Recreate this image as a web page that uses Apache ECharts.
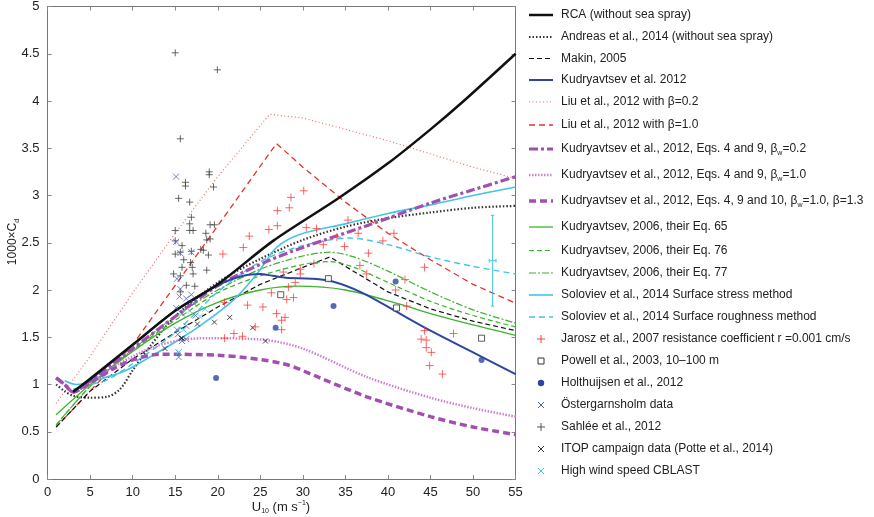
<!DOCTYPE html>
<html><head><meta charset="utf-8">
<script src="https://cdn.jsdelivr.net/npm/echarts@6/dist/echarts.min.js"></script>
<style>html,body{margin:0;padding:0;background:#fff}#c{width:874px;height:517px}</style>
</head><body><div id="c"></div>
<script>
const xTicks=[0,5,10,15,20,25,30,35,40,45,50,55];
const yTicks=[0,0.5,1,1.5,2,2.5,3,3.5,4,4.5,5];
const rca=[[3,0.92],[5,1.06],[10,1.42],[15,1.78],[20,2.06],[26.5,2.52],[34,2.96],[40,3.34],[45,3.7],[48.9,4.0],[55,4.5]];
const andreas=[[1,1.0],[2,0.93],[3,0.88],[5,0.86],[7,0.87],[8.5,0.95],[10,1.15],[12,1.4],[15,1.72],[20,2.08],[25,2.33],[30,2.53],[35,2.67],[40,2.76],[45,2.82],[50,2.87],[55,2.89]];
const makin=[[1,0.55],[5,0.93],[10,1.27],[15,1.55],[20,1.82],[25,2.06],[30,2.24],[33.2,2.35],[35,2.25],[40,1.98],[45,1.8],[50,1.67],[55,1.57]];
const kud2012=[[3,0.93],[5,1.05],[10,1.42],[15,1.78],[20,2.05],[23,2.15],[25,2.17],[26.5,2.15],[28,2.13],[31,2.12],[33.5,2.09],[37,1.97],[41.4,1.75],[45,1.57],[50,1.34],[55,1.11]];
const liu02=[[1,0.8],[5,1.3],[10,1.97],[15,2.6],[20,3.2],[26.1,3.86],[30,3.82],[35,3.7],[40,3.58],[45,3.44],[50,3.3],[55,3.18]];
const liu10=[[1,0.55],[5,0.93],[10,1.42],[15,2.05],[20,2.68],[26.9,3.55],[30,3.3],[35,2.93],[40,2.6],[45,2.32],[50,2.06],[55,1.86]];
const kudB02=[[1,1.07],[2,1.0],[3,0.92],[5,1.04],[10,1.38],[15,1.72],[19.9,2.04],[25.7,2.3],[30,2.45],[37.5,2.68],[45,2.92],[50,3.06],[55,3.2]];
const kudB10=[[5,1.02],[8,1.2],[12,1.38],[15.6,1.47],[19.1,1.49],[25.7,1.47],[30,1.38],[37.5,1.08],[45,0.86],[50,0.75],[55,0.66]];
const kudB13=[[1,1.07],[2,1.0],[3,0.92],[5,1.02],[8,1.18],[10,1.26],[13.2,1.32],[20,1.31],[27.7,1.22],[32,1.07],[37.5,0.87],[45,0.66],[50,0.55],[55,0.47]];
const eq65=[[1,0.68],[5,1.0],[10,1.35],[15,1.65],[20,1.87],[25,2.0],[29.3,2.04],[35,2.0],[41.4,1.85],[45,1.75],[50,1.63],[55,1.52]];
const eq76=[[1,0.57],[5,0.98],[10,1.36],[15,1.68],[20,1.97],[25,2.15],[30,2.27],[33.2,2.3],[36,2.24],[40,2.08],[45,1.88],[50,1.73],[55,1.61]];
const eq77=[[1,0.57],[5,0.98],[10,1.37],[15,1.72],[20,2.0],[25,2.22],[30,2.36],[33.2,2.4],[36,2.35],[40,2.2],[45,1.98],[50,1.79],[55,1.65]];
const solStress=[[2,1.04],[3.4,1.0],[6.2,1.06],[9,1.14],[12,1.29],[15,1.45],[17.9,1.62],[21.8,1.89],[24.6,2.17],[26.9,2.45],[29.7,2.59],[35,2.7],[40,2.81],[45,2.9],[50,3.0],[55,3.09]];
const solRough=[[3,0.95],[5,1.0],[7,1.05],[10,1.22],[15,1.55],[20,1.98],[25,2.3],[30,2.47],[35.5,2.55],[40,2.48],[45,2.35],[50,2.25],[55,2.17]];
const errX=52.3, errY=2.31, errLow=1.83, errHigh=2.79, errHalfW=0.4;
const jarosz=[[30.1,3.05],[28.6,2.98],[28.4,2.87],[27.0,2.84],[26.0,2.64],[27.0,2.68],[23.7,2.57],[23.0,2.45],[20.6,2.38],[30.4,2.66],[31.6,2.65],[35.3,2.74],[36.5,2.6],[37.7,2.39],[39.4,2.52],[40.7,2.6],[34.9,2.46],[32.4,2.48],[34.0,2.56],[29.1,2.08],[28.3,2.03],[28.9,1.92],[28.1,1.9],[26.3,1.97],[25.3,1.82],[23.5,1.84],[20.8,1.87],[26.9,1.75],[27.9,1.71],[27.5,1.68],[27.5,1.58],[24.4,1.61],[21.9,1.54],[20.8,1.49],[22.9,1.51],[37.5,2.17],[36.7,2.26],[31.3,2.28],[42.0,2.11],[40.9,2.0],[42.2,1.83],[44.3,2.24],[44.3,1.57],[43.9,1.48],[44.5,1.47],[44.5,1.39],[45.1,1.34],[44.9,1.2],[46.4,1.11],[47.7,1.54],[29.7,2.17],[29.7,2.22],[27.7,2.19]];
const powell=[[27.4,1.95],[33.0,2.12],[41.0,1.81],[51.0,1.49]];
const holth=[[19.8,1.07],[26.8,1.6],[33.6,1.83],[40.9,2.09],[51.0,1.26]];
const oster=[[15.1,3.2],[15.1,2.51],[15.6,2.39],[15.2,2.12],[15.6,2.01],[15.5,1.93],[15.1,1.81],[15.8,1.75],[15.2,1.58],[15.3,1.53],[15.8,1.46],[15.4,1.34],[15.4,1.29],[16.9,2.4],[16.9,1.95],[16.3,1.62],[17.4,1.73],[16.3,1.91],[16.3,1.48],[17.2,1.86]];
const sahlee=[[15.0,4.51],[19.95,4.33],[15.6,3.6],[16.2,3.14],[16.2,3.1],[15.4,2.97],[19.0,3.25],[19.0,3.22],[19.5,3.09],[16.7,2.93],[16.9,2.77],[15.0,2.63],[16.7,2.7],[16.7,2.63],[17.1,2.63],[19.1,2.69],[19.6,2.69],[18.6,2.6],[19.1,2.54],[18.7,2.53],[15.0,2.52],[15.8,2.47],[15.6,2.4],[16.9,2.41],[18.0,2.43],[18.3,2.42],[18.9,2.37],[15.0,2.38],[16.0,2.32],[16.8,2.29],[15.8,2.24],[17.0,2.24],[14.8,2.17],[15.6,2.15],[17.1,2.17],[16.3,2.05],[17.3,2.04],[18.7,2.21],[15.6,1.98]];
const itop=[[13.8,1.38],[15.7,1.49],[17.6,1.64],[19.6,1.66],[21.4,1.71],[24.1,1.6],[25.6,1.46],[15.8,1.49]];
const cblast=[[15.4,1.34],[16.7,1.78],[16.0,1.58],[18.5,1.8],[17.9,1.72]];

const PLUS='path://M0,-1L0,1M-1,0L1,0', CROSS='path://M-1,-1L1,1M-1,1L1,-1';
function ln(data,color,w,type,smooth){return {type:'line',data,symbol:'none',smooth:smooth?0.3:false,lineStyle:{color,width:w,type:type||'solid'},z:3};}
function sc(data,symbol,size,fill,border,bw){return {type:'scatter',data,symbol,symbolSize:size,itemStyle:{color:fill,borderColor:border,borderWidth:bw},z:4};}
const errSeg=[[errX,errLow],[errX,errHigh],'-',[errX-errHalfW,errY],[errX+errHalfW,errY],'-',[errX-errHalfW,errY-0.02],[errX-errHalfW,errY+0.02],'-',[errX+errHalfW,errY-0.02],[errX+errHalfW,errY+0.02],'-',[errX-0.2,errLow],[errX+0.2,errLow],'-',[errX-0.2,errHigh],[errX+0.2,errHigh]];

const C={blk:'#111',blue:'#2b47a3',pink:'#f26d6d',red:'#e8302a',pur:'#a24fb0',pur2:'#cc80d0',grn:'#3cb32e',cy:'#44c4e4'};
const series=[
 sc(sahlee,PLUS,7,'none','#444',1),
 sc(oster,CROSS,6,'none','#4a63c0',1),
 sc(itop,CROSS,5,'none','#222',1),
 sc(cblast,CROSS,6,'none',C.cy,1),
 sc(jarosz,PLUS,8,'none','#ff4040',1),
 sc(powell,'rect',6,'#fff','#333',1),
 sc(holth,'circle',6,C.blue,C.blue,0),
 ln(liu02,C.pink,1.2,[1,2.5]),
 ln(liu10,C.red,1.3,[6,4]),
 ln(andreas,'#333',2.2,[1.5,2],true),
 ln(makin,C.blk,1.2,[5,3]),
 ln(eq65,C.grn,1.3,'solid',true),
 ln(eq76,C.grn,1.2,[5,3],true),
 ln(eq77,C.grn,1.2,[7,2,2,2],true),
 ln(solStress,C.cy,1.6,'solid',true),
 ln(solRough,C.cy,1.4,[6,4],true),
 ln(kudB10,C.pur2,2.5,[1.5,1.5],true),
 ln(kudB13,C.pur,3.5,[7,4],true),
 ln(kudB02,C.pur,3.2,[9,3,3,3],true),
 ln(kud2012,C.blue,2,'solid',true),
 ln(rca,C.blk,2.5,'solid',true),
 {type:'line',data:errSeg,symbol:'none',connectNulls:false,lineStyle:{color:C.cy,width:1},z:3}
];

const legendRows=[
 ['line',C.blk,2.5,null,'RCA (without sea spray)',15],
 ['line','#333',2.2,[1.5,2],'Andreas et al., 2014 (without sea spray)',37],
 ['line',C.blk,1.2,[5,3],'Makin, 2005',58.5],
 ['line',C.blue,2,null,'Kudryavtsev et al. 2012',80],
 ['line',C.pink,1.2,[1,2.5],'Liu et al., 2012 with β=0.2',102],
 ['line',C.red,1.3,[6,4],'Liu et al., 2012 with β=1.0',125],
 ['line',C.pur,3.2,[9,3,3,3],'Kudryavtsev et al., 2012, Eqs. 4 and 9, β{s|w}=0.2',149],
 ['line',C.pur2,2.5,[1.5,1.5],'Kudryavtsev et al., 2012, Eqs. 4 and 9, β{s|w}=1.0',175],
 ['line',C.pur,3.5,[7,4],'Kudryavtsev et al., 2012, Eqs. 4, 9 and 10, β{s|w}=1.0, β=1.3',201],
 ['line',C.grn,1.3,null,'Kudryavtsev, 2006, their Eq. 65',227],
 ['line',C.grn,1.2,[5,3],'Kudryavtsev, 2006, their Eq. 76',250.5],
 ['line',C.grn,1.2,[7,2,2,2],'Kudryavtsev, 2006, their Eq. 77',273],
 ['line',C.cy,1.6,null,'Soloviev et al., 2014 Surface stress method',295],
 ['line',C.cy,1.4,[6,4],'Soloviev et al., 2014 Surface roughness method',317],
 ['plus','#ff4040',0,null,'Jarosz et al., 2007 resistance coefficient r =0.001 cm/s',339],
 ['rect','#333',0,null,'Powell et al., 2003, 10–100 m',361],
 ['dot',C.blue,0,null,'Holthuijsen et al., 2012',383],
 ['cross','#4a63c0',0,null,'Östergarnsholm data',405],
 ['plus','#555',0,null,'Sahlée et al., 2012',427],
 ['cross','#333',0,null,'ITOP campaign data (Potte et al., 2014)',449],
 ['cross',C.cy,0,null,'High wind speed CBLAST',471]
];
const graphic=[];
legendRows.forEach(r=>{
 const [k,col,w,dash,txt,y]=r;
 if(k==='line') graphic.push({type:'line',shape:{x1:529,y1:y,x2:553,y2:y},style:{stroke:col,lineWidth:w,lineDash:dash||null},z:10});
 else if(k==='plus') graphic.push({type:'polyline',shape:{points:[[537,y],[545,y]]},style:{stroke:col,lineWidth:1}},{type:'line',shape:{x1:541,y1:y-4,x2:541,y2:y+4},style:{stroke:col,lineWidth:1}});
 else if(k==='cross') graphic.push({type:'line',shape:{x1:538,y1:y-3,x2:544,y2:y+3},style:{stroke:col,lineWidth:1}},{type:'line',shape:{x1:538,y1:y+3,x2:544,y2:y-3},style:{stroke:col,lineWidth:1}});
 else if(k==='rect') graphic.push({type:'rect',shape:{x:538,y:y-3,width:6,height:6},style:{fill:'#fff',stroke:col,lineWidth:1}});
 else if(k==='dot') graphic.push({type:'circle',shape:{cx:541,cy:y,r:3.2},style:{fill:col}});
 graphic.push({type:'text',x:561,y:y,style:{text:txt,fill:'#222',font:'12px "Liberation Sans", Arial, sans-serif',verticalAlign:'middle',rich:{s:{fontSize:7,padding:[8,0,0,0],fill:'#222'}}},z:10});
});
graphic.push({type:'text',x:281,y:507,style:{text:'U{s|10} (m s{t|−1})',fill:'#222',font:'13px "Liberation Sans", Arial, sans-serif',align:'center',verticalAlign:'middle',rich:{s:{fontSize:7,padding:[8,0,0,0]},t:{fontSize:7,padding:[0,0,7,0]}}}});
graphic.push({type:'text',x:13,y:242,rotation:Math.PI/2,style:{text:'1000×C{s|d}',fill:'#222',font:'12px "Liberation Sans", Arial, sans-serif',align:'center',verticalAlign:'middle',rich:{s:{fontSize:7,padding:[8,0,0,0]}}}});

const axLine={show:true,onZero:false,lineStyle:{color:'#777',width:1}};
const tick={show:true,inside:true,length:4,lineStyle:{color:'#888'}};
const lbl={color:'#222',fontSize:13,fontFamily:'"Liberation Sans", Arial, sans-serif'};
const chart=echarts.init(document.getElementById('c'));
chart.setOption({
 animation:false,
 grid:{left:47.6,right:358.4,top:5,bottom:38},
 xAxis:[{type:'value',min:xTicks[0],max:xTicks[xTicks.length-1],interval:5,axisLine:axLine,axisTick:tick,splitLine:{show:false},axisLabel:Object.assign({margin:7},lbl)},
        {type:'value',position:'top',min:0,max:55,interval:5,axisLine:axLine,axisTick:tick,axisLabel:{show:false},splitLine:{show:false}}],
 yAxis:[{type:'value',min:yTicks[0],max:yTicks[yTicks.length-1],interval:0.5,axisLine:axLine,axisTick:tick,splitLine:{show:false},axisLabel:Object.assign({margin:8},lbl)},
        {type:'value',position:'right',min:0,max:5,interval:0.5,axisLine:axLine,axisTick:tick,axisLabel:{show:false},splitLine:{show:false}}],
 series,
 graphic
});
</script></body></html>
